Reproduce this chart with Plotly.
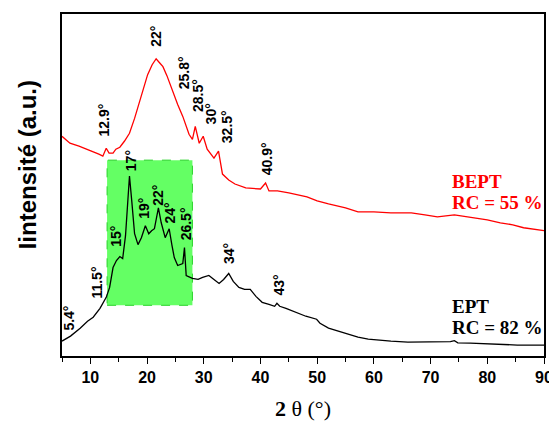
import plotly.graph_objects as go

# ---- data (2θ in degrees, intensity in arbitrary units) ----
ept_2theta = [5.0, 6.5, 8.2, 9.5, 10.5, 11.7, 12.8, 13.4, 14.0, 14.6, 15.2, 15.7, 16.2, 16.9, 17.3,
              17.8, 18.4, 19.0, 19.7, 20.3, 20.8, 21.3, 22.0, 22.5, 23.2, 23.9, 24.4, 24.8, 25.4,
              26.3, 26.6, 26.9, 28.0, 29.0, 29.8, 30.9, 31.8, 32.7, 33.5, 34.4, 35.2, 36.2, 37.2,
              38.2, 39.2, 40.3, 41.5, 42.5, 42.9, 43.4, 44.5, 46.1, 48.0, 49.9, 50.5, 52.0, 54.8,
              57.2, 59.0, 60.7, 63.0, 66.0, 70.0, 73.5, 74.2, 74.8, 77.0, 80.6, 85.3, 90.0]
ept_int = [15, 20, 28, 35, 39, 48, 59, 69, 89, 96, 100, 98, 121, 181, 156,
           123, 112, 119, 131, 123, 126, 128, 149, 134, 119, 128, 111, 99, 91,
           93, 109, 81, 78, 77, 79, 81, 77, 73, 77, 83, 75, 69, 67,
           67, 60, 54, 52, 50, 53, 50, 48, 44, 40, 37, 33, 28, 23,
           19, 17, 16, 15, 14, 14, 14.5, 15.5, 13.3, 13, 12, 11, 11]

bept_2theta = [5.0, 6.4, 8.0, 9.3, 10.5, 11.5, 12.2, 12.8, 13.3, 14.0, 14.5, 15.2, 16.0, 16.9, 17.8,
               18.7, 19.4, 20.1, 20.9, 21.6, 22.2, 22.8, 23.5, 24.2, 24.8, 25.4, 26.3, 27.0, 27.4,
               28.0, 28.5, 29.2, 29.9, 30.6, 31.2, 31.8, 32.6, 33.3, 34.4, 35.5, 37.4, 39.0, 40.0,
               40.9, 41.5, 43.0, 45.0, 48.2, 50.0, 52.0, 55.0, 57.2, 60.0, 63.0, 66.6, 69.0, 71.2,
               74.2, 77.7, 80.0, 82.3, 84.5, 86.4, 88.0, 90.0]
bept_int = [221, 214, 211, 208, 206, 203, 201, 209, 204, 204, 208, 210, 216, 224, 239,
            256, 269, 283, 293, 299, 295, 291, 282, 271, 261, 253, 241, 230, 223,
            218, 231, 214, 221, 208, 204, 199, 206, 183, 177, 173, 169, 168, 168,
            174, 166, 166, 164, 160, 156, 153, 149, 145, 145, 144, 144, 142, 140,
            142, 139, 137, 134, 132, 129, 128, 126]

x_ticks = [10, 20, 30, 40, 50, 60, 70, 80, 90]

bept_peaks = ["22°", "25.8°", "28.5°", "30°", "32.5°", "12.9°", "40.9°"]
ept_peaks = ["17°", "15°", "19°", "22°", "24°", "26.5°", "11.5°", "5.4°", "34°", "43°"]

# label anchor points (layout)
bept_pos = [(21.65, 309), (26.56, 266), (29.01, 243), (31.2, 231), (34.0, 212), (12.36, 219), (41.1, 180)]
ept_pos = [(17.1, 184), (14.46, 108), (19.55, 136), (22.0, 149), (24.1, 131), (26.9, 114),
           (11.22, 56), (6.23, 24), (34.44, 91), (43.2, 59)]

# the page body has an 8px margin; size the figure so the plot lands where the reference has it
BODY = 8
W, H = 557 - BODY, 421 - BODY
L, R, T, B = 62 - BODY, 10, 12 - BODY, 65
PW, PH = 485, 344

fig = go.Figure()
fig.add_shape(type="rect", x0=12.95, x1=28.0, y0=51, y1=197, layer="below",
              fillcolor="rgb(100,255,100)", line=dict(color="rgb(40,210,40)", width=1, dash="dash"))
fig.add_trace(go.Scatter(x=ept_2theta, y=ept_int, mode="lines", line=dict(color="black", width=1.3),
                         showlegend=False))
fig.add_trace(go.Scatter(x=bept_2theta, y=bept_int, mode="lines", line=dict(color="red", width=1.3),
                         showlegend=False))

lab_font = dict(family="Arial", size=14, color="black", weight="bold")
annots = []
for (px, py), t in list(zip(bept_pos, bept_peaks)) + list(zip(ept_pos, ept_peaks)):
    annots.append(dict(x=px, y=py, text=t, textangle=-90, showarrow=False, xanchor="center", yanchor="bottom",
                       font=lab_font, xref="x", yref="y"))

serif = "Liberation Serif"
for txt, y, col in [("BEPT", 176, "red"), ("RC = 55 %", 154, "red"),
                    ("EPT", 50, "black"), ("RC = 82 %", 29, "black")]:
    annots.append(dict(x=73.5, y=y, text=txt, showarrow=False, xanchor="left", yanchor="middle",
                       font=dict(family=serif, size=19, color=col, weight="bold"), xref="x", yref="y"))

annots.append(dict(xref="x domain", yref="y domain", x=(27 - 62) / PW, y=(356 - 164) / PH,
                   text="Iintensité (a.u.)", textangle=-90, showarrow=False, xanchor="center", yanchor="middle",
                   font=dict(family="Arial", size=24, color="black", weight="bold")))

annots.append(dict(xref="x domain", yref="y domain", x=(304 - 62) / PW, y=(356 - 409) / PH,
                   text="<b>2</b> θ (°)", showarrow=False, xanchor="center", yanchor="middle",
                   font=dict(family=serif, size=22, color="black")))

fig.update_layout(
    width=W, height=H,
    margin=dict(l=L, r=R, t=T, b=B),
    paper_bgcolor="white", plot_bgcolor="white",
    annotations=annots,
    showlegend=False,
)
fig.update_xaxes(range=[5, 90], tickvals=x_ticks, ticktext=[str(v) for v in x_ticks],
                 ticks="outside", ticklen=6, tickwidth=1.3, tickcolor="black",
                 minor=dict(dtick=5, tick0=5, ticks="outside", ticklen=4, tickcolor="black", tickwidth=1.3),
                 showline=True, linecolor="black", linewidth=1.5, mirror=True, showgrid=False, zeroline=False,
                 tickfont=dict(family="Arial", size=16, color="black", weight="bold"))
fig.update_yaxes(range=[0, 344], showticklabels=False, ticks="", showline=True, linecolor="black",
                 linewidth=1.5, mirror=True, showgrid=False, zeroline=False)

fig.write_html("out.html")
